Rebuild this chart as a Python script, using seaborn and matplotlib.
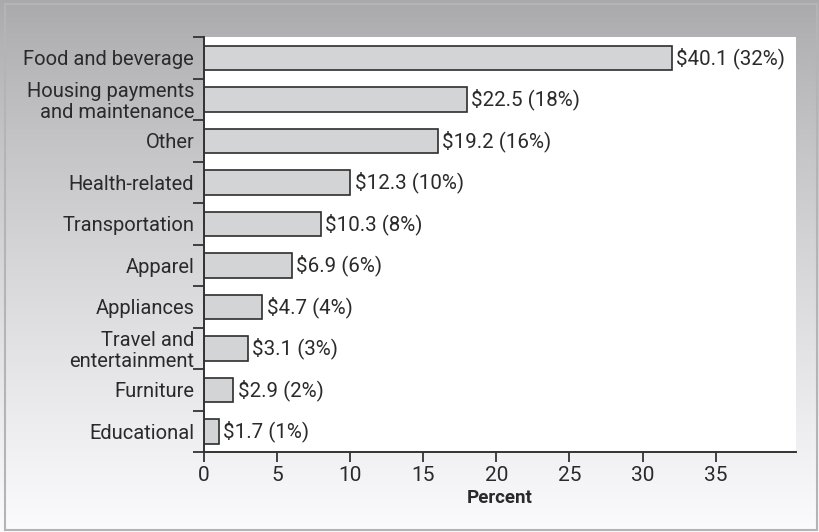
import numpy as np
import pandas as pd
import matplotlib
matplotlib.use("Agg")
import matplotlib.pyplot as plt
from matplotlib.patches import Rectangle
from matplotlib.ticker import FixedLocator
import seaborn as sns

categories = [
    "Food and beverage",
    "Housing payments\nand maintenance",
    "Other",
    "Health-related",
    "Transportation",
    "Apparel",
    "Appliances",
    "Travel and\nentertainment",
    "Furniture",
    "Educational",
]
spending = [40.1, 22.5, 19.2, 12.3, 10.3, 6.9, 4.7, 3.1, 2.9, 1.7]
percent = [32, 18, 16, 10, 8, 6, 4, 3, 2, 1]
x_ticks = [0, 5, 10, 15, 20, 25, 30, 35]

sns.set_theme(style="white")
plt.rcParams["font.family"] = ["Roboto", "DejaVu Sans"]

df = pd.DataFrame({"category": categories, "percent": percent, "spending": spending})

fig = plt.figure(figsize=(8.19, 5.32), dpi=100)

# gradient backdrop: darker grey at the top fading to near white
bg = fig.add_axes([0, 0, 1, 1], zorder=-10)
t = np.linspace(0, 1, 256)
grad = 0.665 + 0.32 * (t ** 0.85)
img = np.dstack([grad, grad, np.clip(grad + 0.01, 0, 1)])
bg.imshow(img.reshape(256, 1, 3), aspect="auto", extent=[0, 1, 0, 1])
bg.add_patch(Rectangle((0.006, 0.004), 0.992, 0.989, transform=bg.transAxes,
                       fill=False, edgecolor="#b4b4b4", lw=1.5))
bg.set_xlim(0, 1)
bg.set_ylim(0, 1)
bg.axis("off")

ax = fig.add_axes([0.249, 0.150, 0.723, 0.780])
ax.set_facecolor("white")
sns.barplot(data=df, x="percent", y="category", orient="h", ax=ax,
            color="#d3d4d6", saturation=1, width=0.6,
            edgecolor="#2e2e2e", linewidth=1.2)

for i, (s, p) in enumerate(zip(spending, percent)):
    ax.text(p + 0.3, i, f"${s} ({p}%)", va="center", ha="left",
            fontsize=14.8, color="#2a2a2a")

ax.set_xlim(0, 40.5)
ax.set_ylim(len(categories) - 0.5, -0.5)
ax.set_xticks(x_ticks)
ax.set_xticklabels([str(t) for t in x_ticks], fontsize=15, color="#2a2a2a")
ax.set_yticks(range(len(categories)))
ax.set_yticklabels(categories, fontsize=14.5, color="#2a2a2a", linespacing=1.12)
ax.yaxis.set_minor_locator(FixedLocator(np.arange(-0.5, len(categories), 1.0)))
ax.tick_params(axis="y", which="major", length=0, pad=7)
ax.tick_params(axis="y", which="minor", length=8, width=1.3, color="#333333", left=True)
ax.tick_params(axis="x", which="major", length=7, width=1.3, color="#333333",
               bottom=True, pad=3)
ax.set_xlabel("Percent", fontsize=13.5, fontweight="bold", color="#2a2a2a", labelpad=3)
ax.set_ylabel("")

for side in ["top", "right"]:
    ax.spines[side].set_visible(False)
for side in ["left", "bottom"]:
    ax.spines[side].set_color("#333333")
    ax.spines[side].set_linewidth(1.4)

fig.savefig("out.png", dpi=100)
